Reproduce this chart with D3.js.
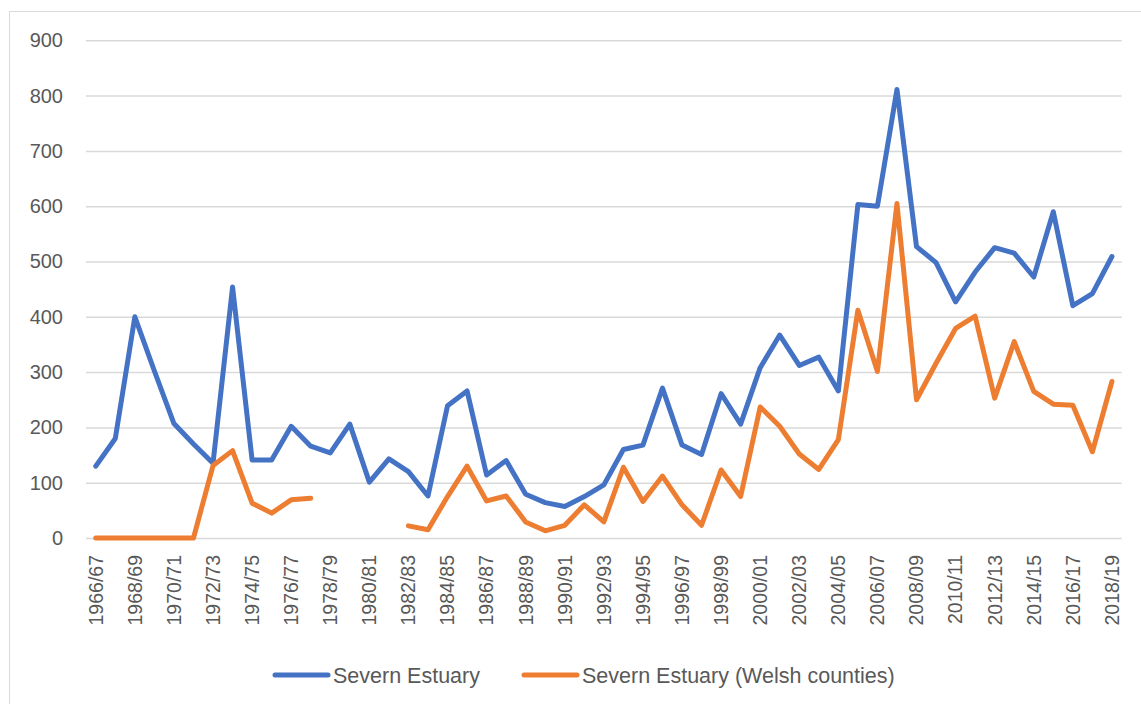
<!DOCTYPE html>
<html>
<head>
<meta charset="utf-8">
<style>
  body { margin: 0; background: #fff; }
  svg { display: block; font-family: "Liberation Sans", Arial, sans-serif; }
</style>
</head>
<body>
<script src="https://cdn.jsdelivr.net/npm/d3@7"></script>
<script>
// seasons 1966/67 .. 2018/19
var seasons = d3.range(1966, 2019).map(y => y + "/" + String((y + 1) % 100).padStart(2, "0"));

var severn = [130, 180, 400, 302, 207, 170, 135, 454, 141, 141,
              202, 166, 154, 206, 101, 143, 120, 76, 239, 266,
              114, 140, 79, 64, 57, 75, 96, 160, 168, 271,
              168, 151, 261, 206, 308, 367, 312, 327, 266, 603,
              600, 811, 527, 498, 427, 481, 525, 515, 472, 590,
              420, 442, 509];

var welsh = [0, 0, 0, 0, 0, 0, 131, 158, 63, 45,
             69, 72, null, null, null, null, 22, 15, 75, 130,
             67, 76, 29, 13, 23, 60, 29, 128, 66, 112,
             60, 23, 123, 75, 237, 202, 152, 124, 178, 412,
             301, 605, 250, 316, 379, 401, 253, 355, 265, 242,
             240, 156, 283];

var seriesNames = ["Severn Estuary", "Severn Estuary (Welsh counties)"];
var seriesColors = ["#4472C4", "#ED7D31"];
var yTicks = [0, 100, 200, 300, 400, 500, 600, 700, 800, 900];

var W = 1141, H = 704;
var margin = {left: 86, right: 19.3, top: 40.3, bottom: 166};

var svg = d3.select("body").append("svg")
    .attr("width", W)
    .attr("height", H);

// chart border (only left/top show in the frame)
svg.append("rect")
    .attr("x", 9.5).attr("y", 11.5)
    .attr("width", 1300).attr("height", 900)
    .attr("fill", "none")
    .attr("stroke", "#d9d9d9")
    .attr("stroke-width", 1);

var x = d3.scaleBand()
    .domain(seasons)
    .range([margin.left, W - margin.right]);

var y = d3.scaleLinear()
    .domain([0, 900])
    .range([H - margin.bottom, margin.top]);

// gridlines + y labels
var yAxis = d3.axisLeft(y)
    .tickValues(yTicks)
    .tickSize(-(W - margin.right - margin.left))
    .tickPadding(23);

var gy = svg.append("g")
    .attr("transform", `translate(${margin.left},0)`)
    .call(yAxis);
gy.select(".domain").remove();
gy.selectAll(".tick line").attr("stroke", "#d9d9d9").attr("stroke-width", 1.5);
gy.selectAll(".tick text")
    .attr("fill", "#595959")
    .style("font-size", "20px")
    .style("font-family", "'Liberation Sans', Arial, sans-serif");

// x labels, every second season
var xAxis = d3.axisBottom(x)
    .tickValues(seasons.filter((d, i) => i % 2 == 0))
    .tickSize(0);

var gx = svg.append("g")
    .attr("transform", `translate(0,${y(0)})`)
    .call(xAxis);
gx.select(".domain").remove();
gx.selectAll(".tick text")
    .attr("fill", "#595959")
    .style("font-size", "19.5px")
    .style("font-family", "'Liberation Sans', Arial, sans-serif")
    .attr("transform", "rotate(-90)")
    .attr("text-anchor", "end")
    .attr("x", -17)
    .attr("y", 0)
    .attr("dy", "0.35em");

// lines
var line = d3.line()
    .defined(d => d.v != null)
    .x(d => x(d.s) + x.bandwidth() / 2)
    .y(d => y(d.v));

[severn, welsh].forEach((vals, k) => {
  svg.append("path")
      .datum(vals.map((v, i) => ({s: seasons[i], v: v})))
      .attr("d", line)
      .attr("fill", "none")
      .attr("stroke", seriesColors[k])
      .attr("stroke-width", 5)
      .attr("stroke-linejoin", "round")
      .attr("stroke-linecap", "round");
});

// legend
var legendX = [273, 522];
var legendY = 675;
seriesNames.forEach((name, k) => {
  svg.append("line")
      .attr("x1", legendX[k] + 2).attr("x2", legendX[k] + 55)
      .attr("y1", legendY).attr("y2", legendY)
      .attr("stroke", seriesColors[k])
      .attr("stroke-width", 5)
      .attr("stroke-linecap", "round");
  svg.append("text")
      .attr("x", legendX[k] + 60)
      .attr("y", legendY)
      .attr("dy", "0.35em")
      .attr("fill", "#595959")
      .style("font-size", "21.5px")
      .text(name);
});
</script>
</body>
</html>
